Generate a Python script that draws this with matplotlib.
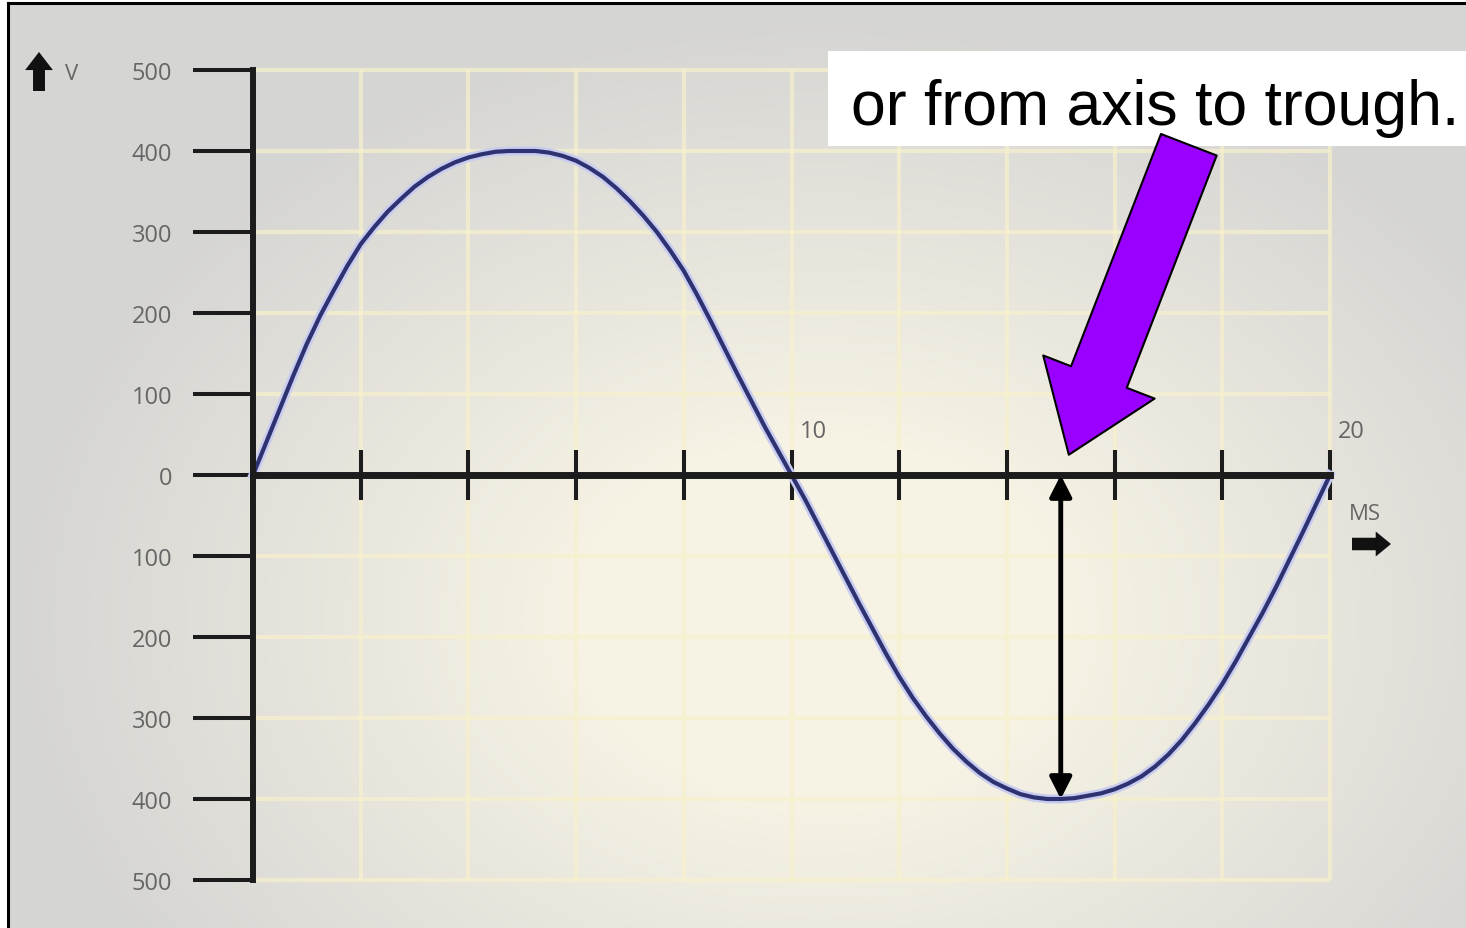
import numpy as np
import matplotlib.pyplot as plt
from matplotlib import patheffects as pe
from matplotlib.patches import Rectangle

plt.rcParams['font.family'] = ['Open Sans', 'DejaVu Sans']

# voltage curve (time in ms, volts), every 0.25 ms
t_ms = [0, 0.25, 0.5, 0.75, 1, 1.25, 1.5, 1.75, 2, 2.25, 2.5, 2.75, 3, 3.25, 3.5, 3.75, 4, 4.25, 4.5, 4.75,
        5, 5.25, 5.5, 5.75, 6, 6.25, 6.5, 6.75, 7, 7.25, 7.5, 7.75, 8, 8.25, 8.5, 8.75, 9, 9.25, 9.5, 9.75,
        10, 10.25, 10.5, 10.75, 11, 11.25, 11.5, 11.75, 12, 12.25, 12.5, 12.75, 13, 13.25, 13.5, 13.75,
        14, 14.25, 14.5, 14.75, 15, 15.25, 15.5, 15.75, 16, 16.25, 16.5, 16.75, 17, 17.25, 17.5, 17.75,
        18, 18.25, 18.5, 18.75, 19, 19.25, 19.5, 19.75, 20]
volts = [0, 41, 82, 123, 162, 197, 228, 258, 285, 306, 325, 341, 356, 368, 378, 386, 392, 396, 399, 400,
         400, 400, 398, 394, 388, 379, 368, 354, 338, 320, 300, 277, 252, 222, 190, 157, 124, 92, 60, 30,
         0, -30, -62, -94, -126, -158, -189, -220, -249, -275, -298, -319, -338, -354, -368, -379,
         -387, -394, -398, -400, -400, -399, -396, -393, -388, -381, -372, -360, -345, -327, -306, -283,
         -258, -230, -200, -170, -138, -104, -70, -35, 0]

y_ticks = [500, 400, 300, 200, 100, 0, -100, -200, -300, -400, -500]
y_labels = ["500", "400", "300", "200", "100", "0", "100", "200", "300", "400", "500"]
x_ticks = [0, 2, 4, 6, 8, 10, 12, 14, 16, 18, 20]
x_marked = [10, 20]
trough_t, trough_v = 15, -400
caption = "or from axis to trough."

W, H = 1466, 929
fig = plt.figure(figsize=(W / 100, H / 100), dpi=100)
ax = fig.add_axes([0, 0, 1, 1])

# where the axes cross in the original, and its scale
x0_px, px_per_ms = 253, 53.85
y0_px, px_per_v = 476, 0.81
ax.set_xlim(-x0_px / px_per_ms, (W - x0_px) / px_per_ms)
ax.set_ylim(-(H - y0_px) / px_per_v, y0_px / px_per_v)
ax.patch.set_visible(False)

# soft grey / cream background
yy, xx = np.mgrid[0:H, 0:W]
r = np.sqrt(((xx - 820) / 700.0) ** 2 + ((yy - 620) / 520.0) ** 2)
w = np.clip((r - 0.35) / 0.8, 0, 1) * 0.85
cream = np.array([246, 242, 228]) / 255
grey = np.array([208, 208, 208]) / 255
bg = cream * (1 - w[..., None]) + grey * w[..., None]
bg[:, :7] = 1
bg[:3, :] = 1
ax.imshow(bg, extent=[0, 1, 0, 1], transform=ax.transAxes, aspect='auto', zorder=0)

# frame
ax.plot([8 / W, 8 / W], [0, 1 - 4 / H], transform=ax.transAxes, color='black', lw=2.2, zorder=1)
ax.plot([8 / W, 1], [1 - 4 / H, 1 - 4 / H], transform=ax.transAxes, color='black', lw=2.2, zorder=1)

# pale yellow grid
ax.hlines(y_ticks, 0, 20, color='#f7f1cc', lw=3, alpha=0.7, zorder=1)
ax.vlines(x_ticks[1:], -500, 500, color='#f7f1cc', lw=3, alpha=0.7, zorder=1)

# axes through the origin
for side in ['top', 'right']:
    ax.spines[side].set_visible(False)
ax.spines['left'].set_position(('data', 0))
ax.spines['left'].set_bounds(-500, 500)
ax.spines['left'].set_linewidth(4.3)
ax.spines['left'].set_color('#1c1c1c')
ax.spines['left'].set_capstyle('projecting')
ax.spines['bottom'].set_position(('data', 0))
ax.spines['bottom'].set_bounds(0, 20)
ax.spines['bottom'].set_linewidth(5)
ax.spines['bottom'].set_color('#1c1c1c')
for s in ax.spines.values():
    s.set_zorder(4)

ax.set_yticks(y_ticks, y_labels)
ax.tick_params(axis='y', direction='out', length=43, width=2.9, color='#1c1c1c',
               pad=15, labelsize=17, labelcolor='#666666')
ax.set_xticks(x_ticks, [""] * len(x_ticks))
ax.tick_params(axis='x', direction='inout', length=36, width=2.9, color='#1c1c1c')

for xv in x_marked:
    ax.annotate(str(xv), xy=(xv, 0), xytext=(8, 44), textcoords='offset pixels',
                ha='left', va='center', fontsize=17, color='#666666')

# the wave
ax.plot(t_ms, volts, color='#2e3270', lw=3, zorder=3, solid_joinstyle='round',
        path_effects=[pe.Stroke(linewidth=6.5, foreground='#c8ccf0'), pe.Normal()])

# axis-to-trough marker
ax.annotate("", xy=(trough_t, trough_v), xytext=(trough_t, 0),
            arrowprops=dict(arrowstyle='<|-|>,head_length=0.65,head_width=0.33', mutation_scale=20,
                            lw=3.5, color='black', shrinkA=0, shrinkB=0), zorder=5)

# caption box
ax.add_patch(Rectangle((828 / W, 1 - 147 / H), 1 - 828 / W, 95 / H, transform=ax.transAxes,
                       facecolor='white', edgecolor='none', zorder=5))
ax.text(851 / W, 1 - 125 / H, caption, transform=ax.transAxes, fontsize=45,
        family='Liberation Sans', ha='left', va='baseline', zorder=7)

# purple pointer
ax.annotate("", xy=(trough_t + 0.15, 25), xytext=(120, 310), textcoords='offset pixels',
            arrowprops=dict(arrowstyle='simple,head_length=60,head_width=86,tail_width=43',
                            mutation_scale=1, fc='#9900ff', ec='black', lw=1.5,
                            shrinkA=0, shrinkB=0), zorder=6)

# unit markers
ax.annotate("", xy=(39, H - 53), xytext=(39, H - 92), xycoords='figure pixels', textcoords='figure pixels',
            arrowprops=dict(arrowstyle='simple,head_length=13,head_width=20,tail_width=8.6',
                            mutation_scale=1, fc='#111111', ec='none', shrinkA=0, shrinkB=0))
fig.text(72 / W, 1 - 75 / H, "V", ha='center', va='center', fontsize=16, color='#666666')
ax.annotate("", xy=(1391, H - 545), xytext=(1352, H - 545), xycoords='figure pixels', textcoords='figure pixels',
            arrowprops=dict(arrowstyle='simple,head_length=11,head_width=18,tail_width=9',
                            mutation_scale=1, fc='#111111', ec='none', shrinkA=0, shrinkB=0))
fig.text(1365 / W, 1 - 515 / H, "MS", ha='center', va='center', fontsize=16, color='#666666')

fig.savefig('out.png', dpi=100)
